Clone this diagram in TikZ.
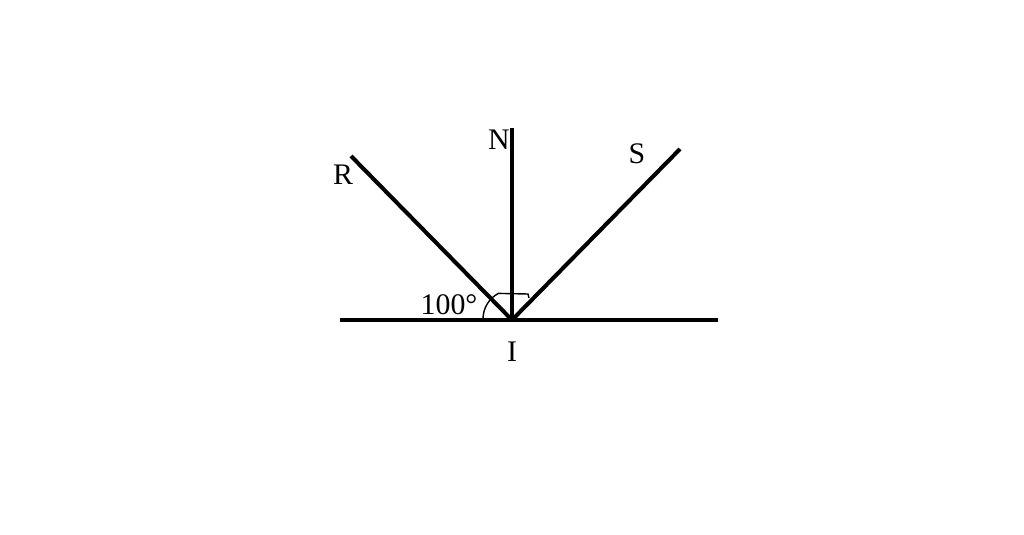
\documentclass[tikz,border=0pt]{standalone}
\usepackage{fontspec}
\setmainfont{Liberation Serif}
\begin{document}
\begin{tikzpicture}[x=0.02cm,y=-0.02cm,
   ray/.style={line width=2.3pt},
   lab/.style={font=\fontsize{17}{20}\selectfont,inner sep=0pt}]
   \useasboundingbox (0,0) rectangle (1024,534);
   \coordinate (I) at (512,320);
   \coordinate (L) at (340,320);
   \coordinate (E) at (718,320);
   \coordinate (Ntop) at (512,128);
   \coordinate (Rtop) at (351,156);
   \coordinate (Stop) at (680,149);

   \draw[ray] (L) -- (E);
   \draw[ray] (I) -- (Ntop);
   \draw[ray] (I) -- (Rtop);
   \draw[ray] (I) -- (Stop);

   % angle mark
   \draw[line width=0.8pt] (483,319) arc (180:242:29) -- (528,294) -- (529,298);

   \node[lab] (N) at (499,140) {N};
   \node[lab] (R) at (343,175) {R};
   \node[lab] (S) at (637,154) {S};
   \node[lab] (Ilab) at (512,352) {I};
   \node[lab] (ang) at (449,305) {100°};
\end{tikzpicture}
\end{document}
